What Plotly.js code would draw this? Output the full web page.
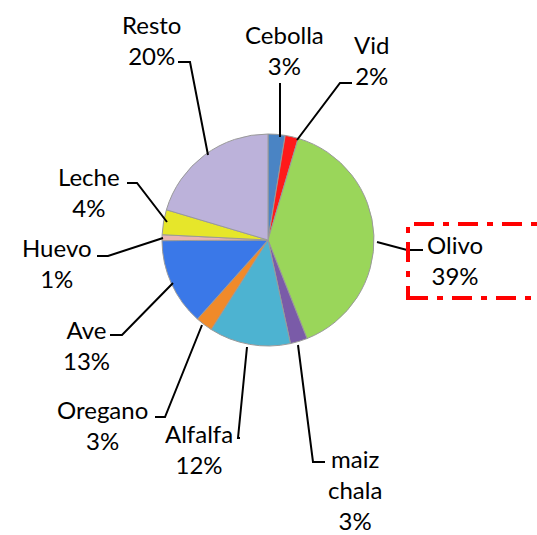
<!DOCTYPE html>
<html><head><meta charset="utf-8">
<script src="https://cdn.plot.ly/plotly-3.0.1.min.js"></script>
<style>html,body{margin:0;padding:0;background:#fff}#chart{width:537px;height:535px}</style>
</head><body><div id="chart"></div>
<script>
var categories = ["Cebolla","Vid","Olivo","maiz<br>chala","Alfalfa","Oregano","Ave","Huevo","Leche","Resto"];
var values = [2.6, 2.0, 39.4, 2.6, 12.4, 2.6, 13.3, 0.9, 3.8, 20.4];
var colors = ["#4a84c4","#ff1a1a","#9ad65a","#7a5ba8","#4db3d1","#f08a2a","#3a78e8","#e8b4b4","#e6e62a","#bcb2da"];

var W = 537, H = 535;
function px(x){return x/W;}
function py(y){return 1 - y/H;}

// label centres (pixels) and leader line paths (pixels)
var labelPos = [[284,50],[371,60],[455,260],[355,489],[199,449],[102,425],[86,345],[57,263],[89,192],[151,40]];
var leaders = [
  [[280,83],[280,137]],
  [[352,83],[340,83],[297,140]],
  [[377,242],[407,250],[423,250]],
  [[325,462],[313,462],[298,345]],
  [[240,438],[238,438],[247,347]],
  [[155,417],[165,417],[202,325]],
  [[110,335],[122,335],[173,283]],
  [[97,256],[108,256],[163,238]],
  [[127,183],[137,183],[167,222]],
  [[178,62],[190,62],[208,155]]
];

var total = values.reduce(function(a,b){return a+b;},0);
var annotations = categories.map(function(c,i){
  return {text: c + "<br>" + Math.round(values[i]/total*100) + "%", x: px(labelPos[i][0]), y: py(labelPos[i][1]),
    xref:"paper", yref:"paper", showarrow:false, xanchor:"center", yanchor:"middle", align:"center",
    font:{family:"Lato, 'Noto Sans', sans-serif", size:24, color:"#000"}};
});
var shapes = leaders.map(function(pts){
  var d = pts.map(function(p,j){return (j?"L":"M")+px(p[0])+","+py(p[1]);}).join(" ");
  return {type:"path", xref:"paper", yref:"paper", path:d, line:{color:"#000", width:2}};
});
shapes.push({type:"rect", xref:"paper", yref:"paper", x0:px(408), x1:px(560), y0:py(298), y1:py(224),
  line:{color:"#ff0000", width:4, dash:"20px,9px,6px,9px"}, fillcolor:"rgba(0,0,0,0)"});

var cx=268, cy=240, r=106;
var data = [{type:"pie", labels:categories, values:values, sort:false, direction:"clockwise", rotation:0,
  marker:{colors:colors, line:{color:"#9a9a9a", width:1}}, textinfo:"none", hoverinfo:"label+percent",
  domain:{x:[px(cx-r), px(cx+r)], y:[py(cy+r), py(cy-r)]}}];
var layout = {width:W, height:H, margin:{l:0,r:0,t:0,b:0}, showlegend:false, paper_bgcolor:"#fff",
  annotations:annotations, shapes:shapes};
Plotly.newPlot("chart", data, layout, {displayModeBar:false, staticPlot:true});
</script></body></html>
